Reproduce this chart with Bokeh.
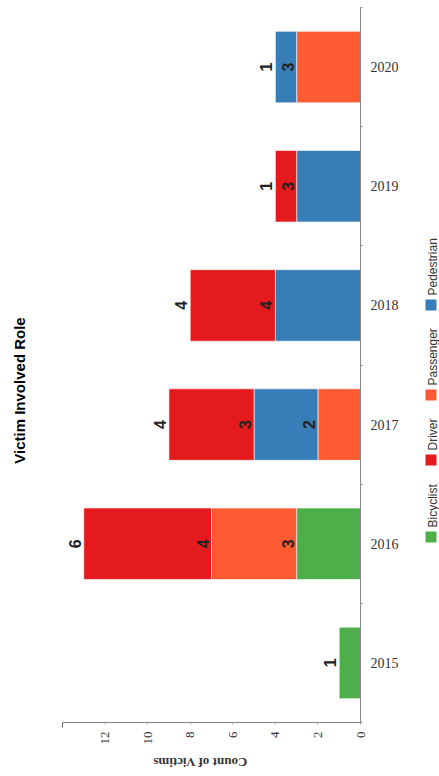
import math
import numpy as np
from bokeh.plotting import figure
from bokeh.layouts import row, column
from bokeh.models import ColumnDataSource, Range1d, LinearAxis, FixedTicker
from bokeh.core.properties import value
from bokeh.embed import file_html
from bokeh.resources import INLINE

# ---------------- data ----------------
years = ["2015", "2016", "2017", "2018", "2019", "2020"]
roles = ["Bicyclist", "Driver", "Passenger", "Pedestrian"]
role_colors = ["#4daf4a", "#e41a1c", "#ff5b33", "#377eb8"]

# segments in stacking order (from the axis outward)
seg_year = ["2015", "2016", "2016", "2016", "2017", "2017", "2017",
            "2018", "2018", "2019", "2019", "2020", "2020"]
seg_role = ["Bicyclist", "Bicyclist", "Passenger", "Driver", "Passenger",
            "Pedestrian", "Driver", "Pedestrian", "Driver", "Pedestrian",
            "Driver", "Passenger", "Pedestrian"]
seg_count = [1, 3, 4, 6, 2, 3, 4, 4, 4, 3, 1, 3, 1]

x_ticks = [0, 2, 4, 6, 8, 10, 12]
x_max = 14
title_text = "Victim Involved Role"
x_title = "Count of Victims"

# ---------------- derived ----------------
ypos, left, right, colors = [], [], [], []
cum = {y: 0 for y in years}
for yr, rl, c in zip(seg_year, seg_role, seg_count):
    ypos.append(years.index(yr))
    left.append(cum[yr])
    cum[yr] += c
    right.append(cum[yr])
    colors.append(role_colors[roles.index(rl)])

src = ColumnDataSource(dict(y=ypos, left=left, right=right, color=colors,
                            label=[str(c) for c in seg_count]))

# ---------------- layout geometry (page pixels) ----------------
W, H = 439, 776
TW = 40            # title strip width
LW = 29            # legend strip width
MW = W - TW - LW   # main strip width
MH = 750           # main figure height
FL, FT, FR, FB = 62, 7, 360, 722   # frame edges on the page


def blank(w, h, xr, yr):
    f = figure(width=w, height=h, output_backend="svg", toolbar_location=None,
               x_range=xr, y_range=yr, x_axis_location=None, y_axis_location=None,
               min_border=0, min_border_left=0, min_border_right=0,
               min_border_top=0, min_border_bottom=0)
    f.outline_line_color = None
    f.xgrid.visible = False
    f.ygrid.visible = False
    f.background_fill_color = "white"
    f.border_fill_color = "white"
    return f


# ---------------- main chart ----------------
p = figure(width=MW, height=MH, output_backend="svg", toolbar_location=None,
           x_range=Range1d(x_max, 0), y_range=Range1d(-0.5, len(years) - 0.5),
           x_axis_location=None, y_axis_location=None,
           min_border_left=FL - TW, min_border_right=TW + MW - FR,
           min_border_top=FT, min_border_bottom=MH - FB)
p.outline_line_color = None
p.xgrid.visible = False
p.ygrid.visible = False
p.background_fill_color = "white"
p.border_fill_color = "white"

p.hbar(y="y", left="left", right="right", height=0.6, color="color",
       line_color="white", line_alpha=0.6, line_width=1, source=src)

p.text(x="right", y="y", text="label", angle=math.pi / 2, x_offset=-9,
       text_align="center", text_baseline="middle",
       text_font=value("Liberation Sans"), text_font_style="bold",
       text_font_size="16px", text_color="#222222", source=src)

xax = LinearAxis(ticker=FixedTicker(ticks=x_ticks, minor_ticks=[x_max]))
xax.axis_line_color = "#888888"
xax.major_tick_line_color = "#aaaaaa"
xax.major_tick_out = 2
xax.major_tick_in = 0
xax.minor_tick_line_color = "#666666"
xax.minor_tick_out = 5
xax.minor_tick_in = 0
xax.major_label_orientation = math.pi / 2
xax.major_label_standoff = 4
xax.major_label_text_font = "Liberation Serif"
xax.major_label_text_font_size = "13px"
xax.major_label_text_color = "#333333"
p.add_layout(xax, "below")

yax = LinearAxis(ticker=FixedTicker(ticks=list(range(len(years))),
                                    minor_ticks=[i - 0.5 for i in range(len(years) + 1)]))
yax.major_label_overrides = {i: y for i, y in enumerate(years)}
yax.axis_line_color = "#888888"
yax.major_tick_line_color = None
yax.major_tick_out = 0
yax.major_tick_in = 0
yax.minor_tick_line_color = "#888888"
yax.minor_tick_out = 2
yax.minor_tick_in = 0
yax.major_label_standoff = 8
yax.major_label_text_font = "Liberation Serif"
yax.major_label_text_font_size = "14px"
yax.major_label_text_color = "#333333"
p.add_layout(yax, "right")

# ---------------- axis title strip (below main) ----------------
xt = blank(MW, H - MH, Range1d(TW, TW + MW), Range1d(H, MH))
xt.text(x=[211], y=[762], text=[x_title], angle=math.pi,
        text_align="center", text_baseline="middle",
        text_font=value("Liberation Serif"), text_font_style="bold",
        text_font_size="13px", text_color="#333333")

# ---------------- title strip (left) ----------------
tf = blank(TW, H, Range1d(0, TW), Range1d(H, 0))
tf.text(x=[18.5], y=[390], text=[title_text], angle=math.pi / 2,
        text_align="center", text_baseline="middle",
        text_font=value("Liberation Sans"), text_font_style="bold",
        text_font_size="15px", text_color="#000000")

# ---------------- legend strip (right) ----------------
lf = blank(LW, H, Range1d(W - LW, W), Range1d(H, 0))
leg_square_bottom = [542, 465, 400, 310]  # page y of square bottoms
leg_x = 430.5
lf.rect(x=[leg_x] * len(roles), y=[b - 5.5 for b in leg_square_bottom],
        width=11, height=11, fill_color=role_colors, line_color=None)
lf.text(x=[leg_x + 1.5] * len(roles), y=[b - 15 for b in leg_square_bottom],
        text=roles, angle=math.pi / 2, text_align="left", text_baseline="middle",
        text_font=value("Liberation Sans"), text_font_size="12px",
        text_color="#333333")

layout = row(tf, column(p, xt, spacing=0), lf, spacing=0)
open("out.html", "w").write(file_html(layout, INLINE))
